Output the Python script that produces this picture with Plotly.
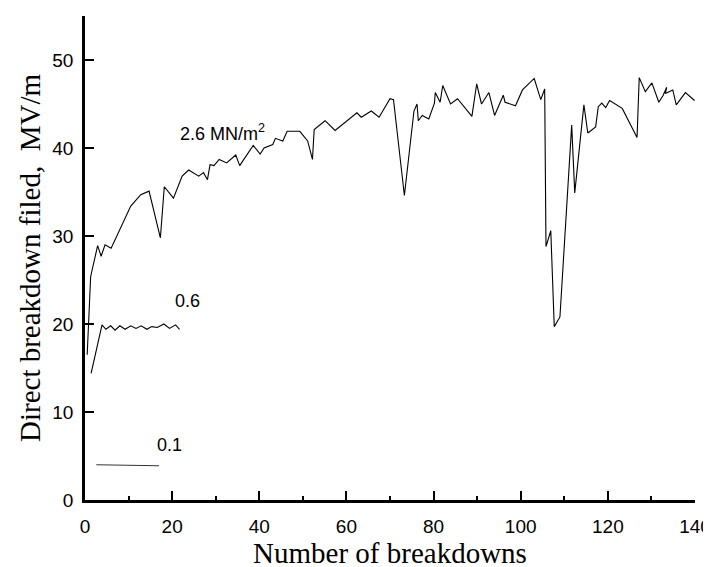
import plotly.graph_objects as go

# 2.6 MN/m^2 series
x_26 = [0.5, 1.3, 2.9, 3.7, 4.6, 6.0, 10.5, 12.8, 14.7, 17.3, 18.2, 20.3, 22.3, 23.8,
        26.1, 27.2, 28.1, 28.7, 29.6, 30.8, 32.5, 34.6, 35.5, 38.6, 40.2, 41.1, 43.1,
        43.7, 45.4, 46.4, 49.3, 51.1, 52.2, 52.6, 55.1, 57.4, 62.4, 63.4, 65.7, 67.5,
        70.0, 70.8, 73.3, 75.5, 76.2, 76.5, 77.4, 78.9, 80.2, 80.4, 81.5, 82.1, 83.9,
        85.5, 88.8, 89.9, 91.0, 92.7, 94.0, 96.0, 96.4, 98.8, 100.4, 103.1, 104.6,
        105.5, 105.8, 106.9, 107.7, 109.0, 111.7, 112.4, 114.5, 115.4, 117.2, 117.8,
        118.6, 119.5, 120.4, 123.3, 126.7, 127.2, 128.6, 130.1, 131.7, 132.7, 133.5,
        133.2, 134.9, 135.7, 137.8, 139.9]
y_26 = [16.5, 25.4, 28.9, 27.7, 29.0, 28.6, 33.4, 34.7, 35.1, 29.8, 35.6, 34.3, 36.8, 37.5,
        36.8, 37.2, 36.4, 38.1, 38.0, 38.7, 38.3, 39.2, 38.0, 40.3, 39.3, 40.0, 40.4,
        41.1, 40.8, 41.9, 41.9, 40.8, 38.7, 42.1, 43.1, 42.0, 44.0, 43.5, 44.2, 43.5,
        45.6, 45.5, 34.6, 44.2, 45.0, 43.1, 43.7, 43.3, 45.1, 46.3, 45.2, 47.1, 45.0,
        45.6, 43.6, 47.3, 45.0, 46.3, 43.7, 46.0, 45.2, 44.8, 46.6, 47.9, 45.5,
        46.7, 28.8, 30.6, 19.7, 20.8, 42.6, 34.9, 44.9, 41.7, 42.4, 44.7,
        45.1, 44.6, 45.4, 44.5, 41.2, 48.0, 46.4, 47.4, 45.2, 46.0, 46.9,
        46.2, 46.6, 44.9, 46.3, 45.4]

# 0.6 MN/m^2 series
x_06 = [1.4, 3.9, 4.8, 5.9, 6.9, 8.0, 9.2, 10.5, 11.7, 12.9, 14.2, 15.3, 16.6, 18.1,
        19.4, 20.8, 21.7]
y_06 = [14.4, 19.9, 19.4, 19.8, 19.3, 19.8, 19.4, 19.8, 19.5, 19.8, 19.4, 19.7, 19.6,
        20.0, 19.5, 19.9, 19.4]

# 0.1 MN/m^2 series
x_01 = [2.6, 17.0]
y_01 = [4.0, 3.9]

labels = ["2.6 MN/m<sup>2</sup>", "0.6", "0.1"]
label_x = [31.5, 23.5, 19.3]
label_y = [41.8, 22.6, 6.3]

fig = go.Figure()
fig.add_trace(go.Scatter(x=x_26, y=y_26, mode="lines", line=dict(color="black", width=1.1)))
fig.add_trace(go.Scatter(x=x_06, y=y_06, mode="lines", line=dict(color="black", width=1.1)))
fig.add_trace(go.Scatter(x=x_01, y=y_01, mode="lines", line=dict(color="#333333", width=1.1)))

for t, lx, ly in zip(labels, label_x, label_y):
    fig.add_annotation(x=lx, y=ly, text=t, showarrow=False,
                       font=dict(family="Liberation Sans", size=18, color="black"))

fig.update_layout(
    width=711, height=567,
    margin=dict(l=77, r=18, t=8, b=75),
    paper_bgcolor="white", plot_bgcolor="white",
    showlegend=False,
    font=dict(family="Liberation Sans", size=19, color="black"),
)
fig.update_xaxes(
    range=[0, 140], dtick=20, tick0=0,
    showgrid=False, zeroline=False,
    showline=True, linecolor="black", linewidth=2.5,
    ticks="inside", ticklen=9, tickwidth=2, tickcolor="black",
    minor=dict(dtick=10, ticks="inside", ticklen=4, tickwidth=1.5, tickcolor="black"),
    tickfont=dict(family="Liberation Sans", size=19, color="black"),
    ticklabelstandoff=7,
    title=dict(text="Number of breakdowns", standoff=3,
               font=dict(family="Liberation Serif", size=29, color="black")),
)
fig.update_yaxes(
    range=[0, 55], dtick=10, tick0=0,
    showgrid=False, zeroline=False,
    showline=True, linecolor="black", linewidth=2.5,
    ticks="inside", ticklen=9, tickwidth=2, tickcolor="black",
    tickfont=dict(family="Liberation Sans", size=19, color="black"),
    ticklabelstandoff=5,
    title=dict(text="Direct breakdown filed,  MV/m", standoff=4,
               font=dict(family="Liberation Serif", size=29, color="black")),
)

fig.write_html("out.html")
